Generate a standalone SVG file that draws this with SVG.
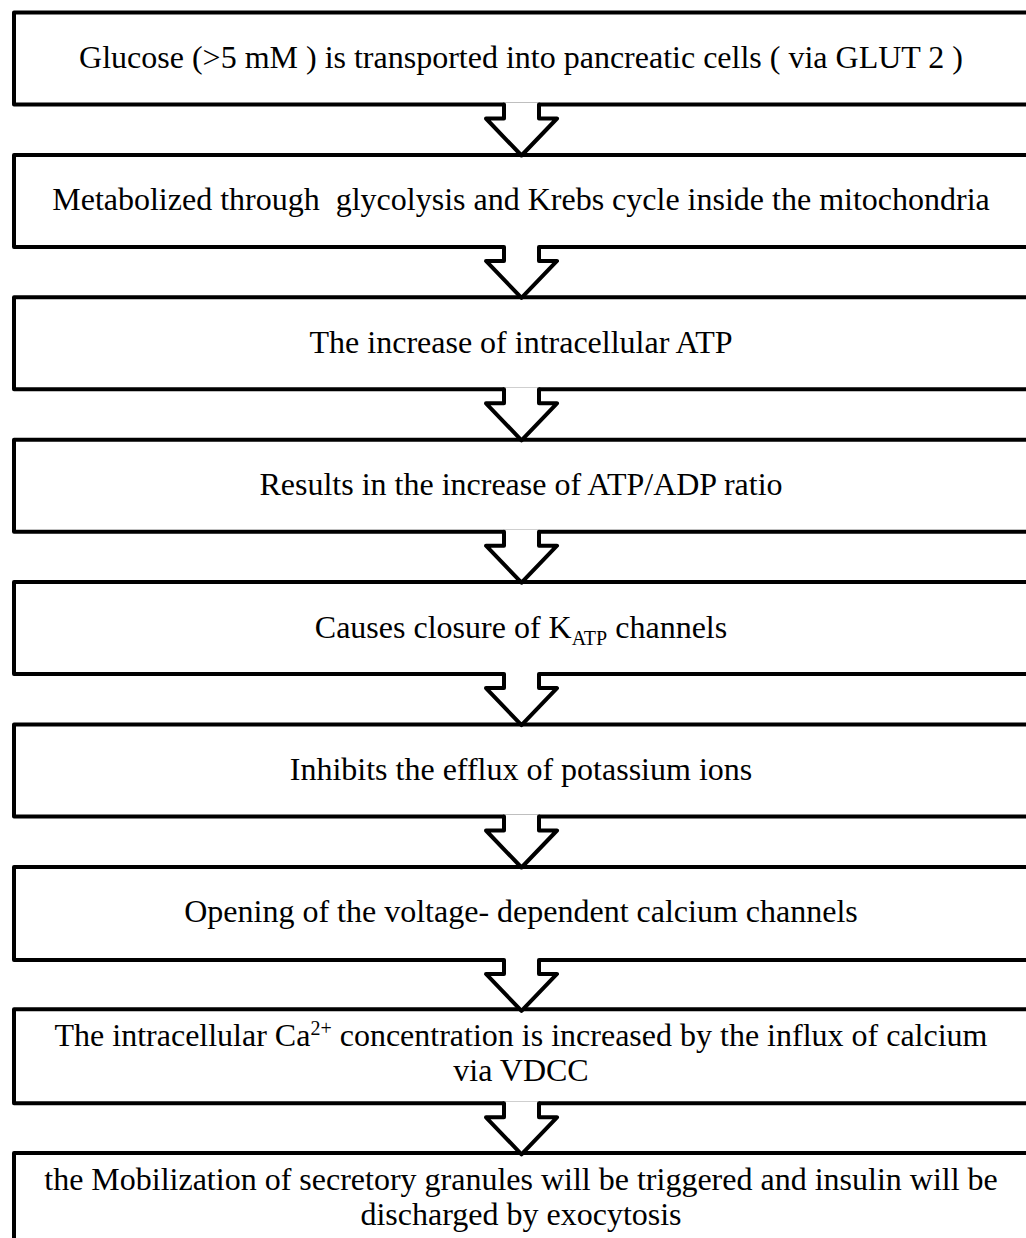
<svg xmlns="http://www.w3.org/2000/svg" width="1026" height="1238" viewBox="0 0 1026 1238">
<style>
.box{fill:#fff;stroke:#000;stroke-width:4;stroke-linejoin:round}
.t{font-family:"Liberation Serif","Times New Roman",serif;font-size:32px;fill:#000;text-anchor:middle;white-space:pre}
.arw{fill:#fff;stroke:none}
.arl{fill:none;stroke:#000;stroke-width:4;stroke-linejoin:round;stroke-linecap:round}
</style>
<rect width="1026" height="1238" fill="#fff"/>
<g id="n1"><rect class="box" x="14" y="12.5" width="1030" height="92"/><text class="t" x="521" y="68">Glucose (&gt;5 mM ) is transported into pancreatic cells ( via GLUT 2 )</text></g>
<g id="n2"><rect class="box" x="14" y="154.9" width="1030" height="92"/><text class="t" x="521" y="210.4">Metabolized through  glycolysis and Krebs cycle inside the mitochondria</text></g>
<g id="n3"><rect class="box" x="14" y="297.3" width="1030" height="92"/><text class="t" x="521" y="352.8">The increase of intracellular ATP</text></g>
<g id="n4"><rect class="box" x="14" y="439.7" width="1030" height="92"/><text class="t" x="521" y="495.2">Results in the increase of ATP/ADP ratio</text></g>
<g id="n5"><rect class="box" x="14" y="582.1" width="1030" height="92"/><text class="t" x="521" y="637.6">Causes closure of K<tspan dy="7" font-size="20">ATP</tspan><tspan dy="-7"> channels</tspan></text></g>
<g id="n6"><rect class="box" x="14" y="724.5" width="1030" height="92"/><text class="t" x="521" y="780">Inhibits the efflux of potassium ions</text></g>
<g id="n7"><rect class="box" x="14" y="866.9" width="1030" height="93"/><text class="t" x="521" y="922.4">Opening of the voltage- dependent calcium channels</text></g>
<g id="n8"><rect class="box" x="14" y="1009.3" width="1030" height="94"/><text class="t" x="521" y="1046">The intracellular Ca<tspan dy="-11" font-size="20">2+</tspan><tspan dy="11"> concentration is increased by the influx of calcium</tspan></text><text class="t" x="521" y="1081">via VDCC</text></g>
<g id="n9"><rect class="box" x="14" y="1153" width="1030" height="120"/><text class="t" x="521" y="1190">the Mobilization of secretory granules will be triggered and insulin will be</text><text class="t" x="521" y="1225">discharged by exocytosis</text></g>
<g id="connectors">
<g transform="translate(0,104.5)"><path class="arw" d="M504,-2 V14 H486 L521.5,51 L557,14 H539 V-2 Z"/><path class="arl" d="M504,0 V14 H486 L521.5,51 L557,14 H539 V0"/></g>
<g transform="translate(0,246.9)"><path class="arw" d="M504,-2 V14 H486 L521.5,51 L557,14 H539 V-2 Z"/><path class="arl" d="M504,0 V14 H486 L521.5,51 L557,14 H539 V0"/></g>
<g transform="translate(0,389.3)"><path class="arw" d="M504,-2 V14 H486 L521.5,51 L557,14 H539 V-2 Z"/><path class="arl" d="M504,0 V14 H486 L521.5,51 L557,14 H539 V0"/></g>
<g transform="translate(0,531.7)"><path class="arw" d="M504,-2 V14 H486 L521.5,51 L557,14 H539 V-2 Z"/><path class="arl" d="M504,0 V14 H486 L521.5,51 L557,14 H539 V0"/></g>
<g transform="translate(0,674.1)"><path class="arw" d="M504,-2 V14 H486 L521.5,51 L557,14 H539 V-2 Z"/><path class="arl" d="M504,0 V14 H486 L521.5,51 L557,14 H539 V0"/></g>
<g transform="translate(0,816.5)"><path class="arw" d="M504,-2 V14 H486 L521.5,51 L557,14 H539 V-2 Z"/><path class="arl" d="M504,0 V14 H486 L521.5,51 L557,14 H539 V0"/></g>
<g transform="translate(0,959.9)"><path class="arw" d="M504,-2 V14 H486 L521.5,51 L557,14 H539 V-2 Z"/><path class="arl" d="M504,0 V14 H486 L521.5,51 L557,14 H539 V0"/></g>
<g transform="translate(0,1103.3)"><path class="arw" d="M504,-2 V14 H486 L521.5,51 L557,14 H539 V-2 Z"/><path class="arl" d="M504,0 V14 H486 L521.5,51 L557,14 H539 V0"/></g>
</g>
</svg>
